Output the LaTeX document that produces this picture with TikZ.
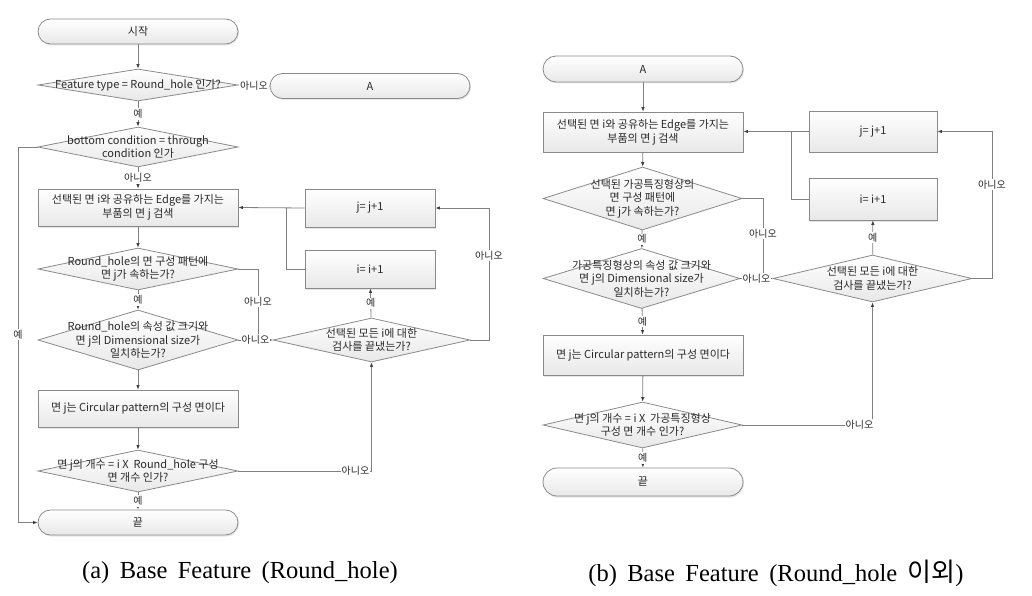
\documentclass[tikz,border=0pt]{standalone}
\usepackage{fontspec}
\setmainfont{Liberation Serif}[WordSpace=1.7]
\newfontfamily\kr{Noto Sans CJK KR}
\usetikzlibrary{shapes.geometric,arrows.meta,shadows}
\definecolor{lc}{HTML}{808080}
\definecolor{tc}{HTML}{2A2A2A}
\definecolor{bc}{HTML}{8A8A8A}
\tikzset{
  base/.style={draw=bc, line width=0.8pt, top color=white, bottom color=black!9, text=tc,
    font=\kr\fontsize{11}{14}\selectfont, align=center, inner sep=0pt},
  term/.style={base, rectangle, rounded corners=12.5pt, minimum width=200pt, minimum height=25pt,
    drop shadow={opacity=0.2, shadow xshift=1pt, shadow yshift=-1.5pt}},
  proc/.style={base, rectangle, minimum width=200pt, minimum height=37pt,
    drop shadow={opacity=0.2, shadow xshift=1pt, shadow yshift=-1.5pt}},
  dia/.style={base, diamond, minimum width=200pt},
  dtext/.style={text=tc, font=\kr\fontsize{11}{13.5}\selectfont, align=center, inner sep=0pt},
  lab/.style={fill=white, text=tc, font=\kr\fontsize{10}{11}\selectfont, inner sep=1pt},
  conn/.style={draw=lc, line width=0.8pt},
  arr/.style={conn, -{Latex[length=4.5pt,width=3.5pt,color=black!75]}},
  captxt/.style={font=\rmfamily\fontsize{24.5}{28}\selectfont, text=black, inner sep=0pt},
}
\begin{document}
\begin{tikzpicture}[x=1pt,y=-1pt]
\useasboundingbox (0,0) rectangle (1032,596);
% ---------------- (a) ----------------
\node[term] (s) at (138,31.5) {시작};
\node[dia, minimum height=32pt, label={[dtext]center:{Feature type = Round\_hole 인가?}}] (d1) at (138,85) {};
\node[term] (a1) at (370,86) {A};
\node[dia, minimum height=40pt, label={[dtext]center:{bottom condition = through\\condition 인가}}] (d2) at (138,147) {};
\node[proc] (b1) at (138,207.5) {선택된 면 i와 공유하는 Edge를 가지는\\부품의 면 j 검색};
\node[dia, minimum height=42pt, label={[dtext]center:{Round\_hole의 면 구성 패턴에\\면 j가 속하는가?}}] (d3) at (138,269) {};
\node[dia, minimum height=60pt, label={[dtext]center:{Round\_hole의 속성 값 크기와\\면 j의 Dimensional size가\\일치하는가?}}] (d4) at (138,340) {};
\node[proc] (b2) at (138,408.5) {면 j는 Circular pattern의 구성 면이다};
\node[dia, minimum height=42pt, label={[dtext]center:{면 j의 개수 = i X \ Round\_hole 구성\\면 개수 인가?}}] (d6) at (138,471) {};
\node[term] (e1) at (138,522.5) {끝};
\node[proc, minimum width=130pt, minimum height=38pt] (jb) at (370,208) {j= j+1};
\node[proc, minimum width=130pt, minimum height=38pt] (ib) at (370,269) {i= i+1};
\node[dia, minimum width=197pt, minimum height=44pt, label={[dtext]center:{선택된 모든 i에 대한\\검사를 끝냈는가?}}] (d5) at (371.5,340) {};

\coordinate (l1) at (18,147);
\coordinate (l2) at (18,522.5);
\coordinate (k1) at (286,208);
\coordinate (r1) at (489,340);
\coordinate (r2) at (489,208);
\coordinate (c1) at (258,340);
\coordinate (q1) at (371.5,471);

\draw[arr] (s) -- (d1);
\draw[conn] (d1.east) -- node[lab]{아니오} (a1.west);
\draw[arr] (d1) -- node[lab]{예} (d2);
\draw[arr] (d2) -- node[lab]{아니오} (b1);
\draw[arr] (b1) -- (d3);
\draw[arr] (d3) -- node[lab]{예} (d4);
\draw[arr] (d4) -- (b2);
\draw[arr] (b2) -- (d6);
\draw[arr] (d6) -- node[lab]{예} (e1);
\draw[arr] (d2.west) -- (l1) -- node[lab]{예} (l2) -- (e1.west);
\draw[arr] (jb.west) -- (b1.east);
\draw[conn] (ib.west) -| (k1);
\draw[arr] (d5) -- node[lab]{예} (ib);
\draw[arr] (d5.east) -- (r1) -- node[lab,pos=0.64]{아니오} (r2) -- (jb.east);
\draw[conn] (d3.east) -| node[lab,pos=0.73]{아니오} (c1);
\draw[arr] (d4.east) -- node[lab]{아니오} (d5.west);
\draw[arr] (d6.east) -- node[lab,pos=0.88]{아니오} (q1) -- (d5.south);

% ---------------- (b) ----------------
\node[term, minimum height=26pt, rounded corners=13pt] (a2) at (643,69) {A};
\node[proc, minimum height=40pt] (b1r) at (643,132) {선택된 면 i와 공유하는 Edge를 가지는\\부품의 면 j 검색};
\node[dia, minimum width=199pt, minimum height=63pt, label={[dtext]center:{선택된 가공특징형상의\\면 구성 패턴에\\면 j가 속하는가?}}] (d1r) at (642.5,198.5) {};
\node[dia, minimum width=197pt, minimum height=60pt, label={[dtext]center:{가공특징형상의 속성 값 크기와\\면 j의 Dimensional size가\\일치하는가?}}] (d2r) at (641.5,278.5) {};
\node[proc, minimum height=40pt] (b2r) at (643,355) {면 j는 Circular pattern의 구성 면이다};
\node[dia, minimum width=199pt, minimum height=46pt, label={[dtext]center:{면 j의 개수 = i X \ 가공특징형상\\구성 면 개수 인가?}}] (d4r) at (642.5,425) {};
\node[term, minimum height=28pt, rounded corners=14pt] (e2) at (643,482) {끝};
\node[proc, minimum width=128pt, minimum height=41pt] (jr) at (873,131.5) {j= j+1};
\node[proc, minimum width=128pt, minimum height=42pt] (ir) at (873,199) {i= i+1};
\node[dia, minimum width=199pt, minimum height=47pt, label={[dtext]center:{선택된 모든 i에 대한\\검사를 끝냈는가?}}] (d3r) at (872.5,278.5) {};

\coordinate (k2) at (791,131.5);
\coordinate (r3) at (992,278.5);
\coordinate (r4) at (992,131.5);
\coordinate (c2) at (763,278.5);
\coordinate (q2) at (872.5,425);

\draw[arr] (a2) -- (b1r);
\draw[arr] (b1r) -- (d1r);
\draw[arr] (d1r) -- node[lab]{예} (d2r);
\draw[arr] (d2r) -- node[lab]{예} (b2r);
\draw[arr] (b2r) -- (d4r);
\draw[arr] (d4r) -- node[lab]{예} (e2);
\draw[arr] (jr.west) -- (jr.west -| b1r.east);
\draw[conn] (ir.west) -| (k2);
\draw[arr] (d3r) -- node[lab]{예} (ir);
\draw[arr] (d3r.east) -- (r3) -- node[lab,pos=0.64]{아니오} (r4) -- (jr.east);
\draw[conn] (d1r.east) -| node[lab,pos=0.72]{아니오} (c2);
\draw[arr] (d2r.east) -- node[lab]{아니오} (d3r.west);
\draw[arr] (d4r.east) -- node[lab,pos=0.9]{아니오} (q2) -- (d3r.south);

% ---------------- captions ----------------
\node[captxt] (capa) at (240,573) {(a) Base Feature (Round\_hole)};
\node[captxt] (capb) at (776,573) {(b) Base Feature (Round\_hole {\kr\fontsize{26}{28}\selectfont 이외})};
\end{tikzpicture}
\end{document}
